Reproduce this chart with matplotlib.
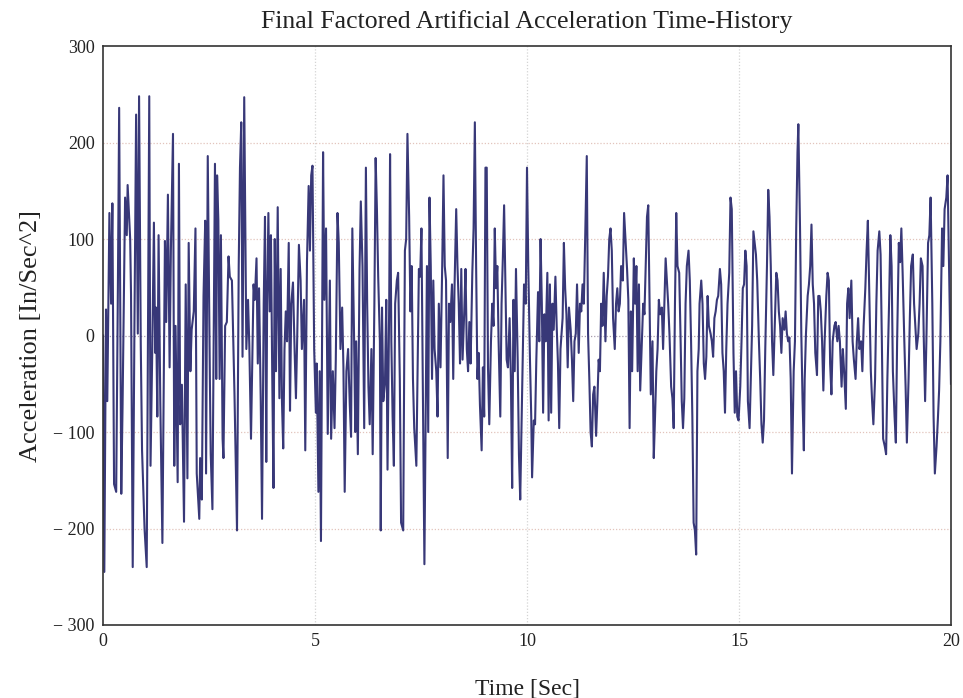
import numpy as np
import matplotlib
matplotlib.use("Agg")
import matplotlib.pyplot as plt

# values, peaks and troughs of the record
t_0_5 = [0, 0.03, 0.07, 0.10, 0.15, 0.19, 0.22, 0.26, 0.31, 0.35,
         0.38, 0.43, 0.46, 0.52, 0.56, 0.58, 0.64, 0.66, 0.70, 0.74,
         0.78, 0.82, 0.85, 0.89, 0.92, 0.98, 1.03, 1.09, 1.12, 1.16,
         1.20, 1.23, 1.25, 1.28, 1.31, 1.35, 1.40, 1.46, 1.49, 1.53,
         1.57, 1.60, 1.65, 1.68, 1.71, 1.76, 1.79, 1.82, 1.86, 1.91,
         1.95, 1.99, 2.02, 2.06, 2.09, 2.14, 2.18, 2.21, 2.27, 2.29,
         2.33, 2.37, 2.41, 2.43, 2.47,
         2.52, 2.54, 2.58, 2.61, 2.64, 2.67, 2.69, 2.72, 2.75, 2.78,
         2.82, 2.84, 2.88, 2.92, 2.96, 2.99, 3.04, 3.10, 3.16, 3.20,
         3.23, 3.26, 3.29, 3.33, 3.35, 3.38, 3.42, 3.45, 3.49, 3.55,
         3.58, 3.62, 3.65, 3.68, 3.72, 3.75, 3.79, 3.82, 3.85, 3.87,
         3.90, 3.93, 3.96, 3.99, 4.02, 4.05, 4.08, 4.12, 4.16, 4.19,
         4.22, 4.25, 4.28, 4.31, 4.34, 4.38, 4.41, 4.44, 4.48, 4.52,
         4.55, 4.58, 4.62, 4.66, 4.69, 4.74, 4.77, 4.81, 4.85, 4.88,
         4.91, 4.94]
acc_0_5 = [0, -245, 27, -68, 127, 33, 137, -154, -162, 49,
           236, -164, -74, 143, 104, 156, 100, 43, -240, 6,
           229, 2, 248, -10, -119, -201, -240, 248, -135, -18,
           117, -18, 29, -84, 104, -68, -215, 98, 14, 146,
           -33, 88, 209, -135, 10, -152, 178, -92, -51, -193,
           53, -148, 96, -37, 6, 25, 111, -143, -190, -127,
           -170, 41, 119, -143, 186,
           -45, -123, -180, -2, 178, -45, 166, 119, -45, 104,
           -107, -127, 10, 14, 82, 61, 57, -60, -202, 72,
           174, 221, -22, 247, 139, -14, 37, -10, -107, 53,
           37, 80, -29, 49, -68, -190, 33, 123, -131, 33,
           127, 25, 104, -37, -158, 100, -37, 133, -65, 69,
           -68, -117, -14, 25, -6, 96, -78, 33, 55, -18,
           -65, -2, 94, 57, -14, 37, -119, 76, 155, 88,
           166, 176]

t_5_10 = [4.98, 5.02, 5.04, 5.08, 5.11, 5.14, 5.19, 5.22, 5.26, 5.30,
          5.35, 5.38, 5.42, 5.46, 5.49, 5.53, 5.56, 5.60, 5.64, 5.67,
          5.70, 5.74, 5.78, 5.82, 5.85, 5.88, 5.92, 5.95, 5.97, 6.01,
          6.05, 6.08, 6.12, 6.16, 6.20, 6.23, 6.26, 6.29, 6.33, 6.36,
          6.40, 6.43, 6.46, 6.49, 6.53, 6.55, 6.58, 6.61, 6.65, 6.68,
          6.71, 6.75, 6.77, 6.80, 6.83, 6.86, 6.89, 6.93, 6.96, 7.00,
          7.03, 7.08, 7.12, 7.15, 7.18, 7.22, 7.25, 7.28, 7.31, 7.34,
          7.39,
          7.45, 7.48, 7.51, 7.54, 7.58, 7.61, 7.64, 7.67, 7.70, 7.73,
          7.76, 7.79, 7.82, 7.86, 7.89, 7.92, 7.96, 8.00, 8.03, 8.06,
          8.09, 8.13, 8.16, 8.19, 8.23, 8.26, 8.29, 8.33, 8.36, 8.39,
          8.42, 8.45, 8.48, 8.52, 8.55, 8.58, 8.61, 8.64, 8.67, 8.71,
          8.74, 8.77, 8.80, 8.83, 8.86, 8.89, 8.93, 8.96, 8.99, 9.02,
          9.05, 9.08, 9.11, 9.15, 9.18, 9.21, 9.24, 9.27, 9.30, 9.33,
          9.37, 9.40, 9.43, 9.46, 9.49, 9.52, 9.55, 9.59, 9.62, 9.65,
          9.68, 9.71, 9.74, 9.78, 9.81, 9.84]
acc_5_10 = [-14, -80, -29, -162, -37, -213, 190, 37, 111, -102,
            57, -107, -37, -96, -25, 127, 96, -14, 29, -33,
            -162, -37, -14, -72, -105, 111, 2, -100, -6, -123,
            69, 139, 72, -96, 174, 33, -53, -92, -14, -123,
            33, 184, 131, 61, -6, -202, 29, -68, -49, 37,
            -139, 33, 188, -6, -84, -135, 33, 57, 65, -45,
            -194, -202, 88, 100, 209, 123, 25, 72, -45, -96,
            -135,
            69, 61, 111, -33, -237, -84, 72, -100, 143, 72,
            -45, 57, -14, -37, -84, 33, -33, 72, 166, 72,
            57, -127, 33, 14, 53, -45, 49, 131, 72, 33,
            -29, 69, -25, 25, 69, -14, -37, 14, -29, 65,
            111, 221, 72, -45, -18, -72, -119, -33, -84, 174,
            174, -33, -92, -6, 33, 10, 111, 49, 72, -6,
            -84, 33, 80, 135, 57, -25, -33, 18, -45, -158,
            37, -37, 69, -25, -123, -170]

t_10_15 = [9.89, 9.93, 9.97, 10.00, 10.03, 10.07, 10.10, 10.12, 10.16, 10.19,
           10.22, 10.26, 10.29, 10.32, 10.35, 10.38, 10.41, 10.44, 10.48, 10.51,
           10.54, 10.57, 10.60, 10.63, 10.67, 10.70, 10.73, 10.76, 10.79, 10.84,
           10.87, 10.90, 10.93, 10.96, 10.99, 11.03, 11.06, 11.09, 11.12, 11.15,
           11.18, 11.22, 11.25, 11.28, 11.31, 11.34, 11.37, 11.41, 11.44, 11.47,
           11.50, 11.53, 11.56, 11.59, 11.63, 11.66, 11.69, 11.72, 11.75, 11.78,
           11.81, 11.85, 11.88, 11.91, 11.94, 11.97, 12.00, 12.03, 12.07, 12.10,
           12.13, 12.16, 12.19, 12.22, 12.26, 12.29,
           12.36, 12.39, 12.42, 12.45, 12.48, 12.52, 12.55, 12.58, 12.61, 12.64,
           12.67, 12.70, 12.74, 12.77, 12.80, 12.83, 12.86, 12.89, 12.92, 12.96,
           12.99, 13.02, 13.05, 13.08, 13.11, 13.14, 13.18, 13.21, 13.24, 13.27,
           13.30, 13.33, 13.36, 13.40, 13.43, 13.46, 13.49, 13.52, 13.55, 13.59,
           13.62, 13.65, 13.68, 13.71, 13.74, 13.77, 13.81, 13.84, 13.87, 13.90,
           13.93, 13.96, 13.99, 14.02, 14.05, 14.07, 14.11, 14.14, 14.17, 14.20,
           14.23, 14.26, 14.29, 14.33, 14.36, 14.39, 14.42, 14.45, 14.48, 14.51,
           14.55, 14.58, 14.61, 14.64, 14.67, 14.70, 14.73, 14.77, 14.80, 14.83]
acc_10_15 = [-45, 53, 33, 174, 72, -25, -84, -147, -88, -92,
             -25, 45, -6, 100, 33, -80, 22, -6, 65, -88,
             53, -80, 33, 6, 61, 10, -29, -96, -14, 18,
             96, 49, 22, -33, 29, 6, -25, -68, -6, 2,
             53, -18, 33, 25, 53, 33, 96, 186, 2, -45,
             -100, -115, -61, -53, -104, -68, -25, -37, 33, 10,
             65, -6, 41, 61, 100, 111, 88, 18, -14, 33,
             49, 25, 33, 72, 57, 127,
             69, 37, -96, 25, -37, 80, 33, 72, -37, 53,
             -57, -18, 33, 22, 72, 123, 135, 33, -61, -6,
             -127, -84, -37, -14, 37, 22, 29, -14, 33, 80,
             57, 33, 2, -53, -65, -96, 33, 127, 72, 65,
             2, -68, -96, -65, 33, 72, 88, 57, -6, -84,
             -194, -202, -227, -37, -14, 33, 57, 33, -29, -45,
             -22, 41, 10, 2, -6, -22, 18, 25, 37, 41,
             69, 53, -18, -37, -80, -14, 33, 65, 143, 131]

t_15_20 = [14.87, 14.90, 14.93, 14.96, 14.99, 15.03, 15.06, 15.09, 15.12, 15.15,
           15.18, 15.21, 15.25, 15.28, 15.31, 15.34, 15.37, 15.40, 15.43, 15.47,
           15.50, 15.53, 15.56, 15.59, 15.62, 15.66, 15.69, 15.72, 15.75, 15.78,
           15.81, 15.84, 15.88, 15.91, 15.94, 15.97, 16.00, 16.03, 16.07, 16.10,
           16.13, 16.16, 16.19, 16.22, 16.25, 16.29, 16.32, 16.35, 16.38, 16.40,
           16.44, 16.47, 16.50, 16.53, 16.55, 16.58, 16.62, 16.65, 16.68, 16.71,
           16.74, 16.77, 16.80, 16.84, 16.87, 16.90, 16.93, 16.96, 16.99, 17.02,
           17.06, 17.09, 17.12, 17.15, 17.18, 17.21, 17.25, 17.28,
           17.32, 17.35, 17.38, 17.42, 17.45, 17.48, 17.52, 17.55, 17.58, 17.61,
           17.65, 17.68, 17.71, 17.75, 17.78, 17.81, 17.84, 17.88, 17.91, 17.94,
           17.98, 18.01, 18.04, 18.08, 18.11, 18.14, 18.17, 18.21, 18.24, 18.27,
           18.31, 18.34, 18.37, 18.40, 18.44, 18.47, 18.50, 18.54, 18.57, 18.60,
           18.63, 18.67, 18.70, 18.73, 18.77, 18.80, 18.83, 18.86, 18.90, 18.93,
           18.96, 19.00, 19.03, 19.06, 19.10, 19.13, 19.16, 19.19, 19.23, 19.26,
           19.29, 19.33, 19.36, 19.39, 19.42, 19.46, 19.49, 19.52, 19.56, 19.59,
           19.62, 19.66, 19.69, 19.72, 19.75, 19.79, 19.82, 19.85, 19.89, 19.92,
           19.96, 20.0]
acc_15_20 = [-18, -80, -37, -84, -88, -53, -6, 49, 53, 88,
             72, -68, -96, -45, 10, 108, 96, 84, 57, -6,
             -45, -92, -111, -88, -14, 72, 151, 123, 72, -6,
             -41, 6, 65, 57, 25, 10, -18, 18, 6, 25,
             2, -6, -2, -45, -143, -37, -6, 111, 190, 219,
             111, 2, -68, -119, -45, 2, 41, 53, 72, 115,
             53, 33, -18, -41, 41, 41, 25, -6, -57, -6,
             41, 65, 57, -29, -61, -6, 10, 14,
             -6, 10, -6, -53, -14, -37, -76, 33, 49, 18,
             57, -6, -25, -45, -6, 18, -14, -6, -37, 10,
             49, 88, 119, 33, -37, -68, -92, -45, 33, 88,
             108, 84, -6, -107, -115, -123, -45, 33, 104, 72,
             -37, -84, -111, -6, 96, 76, 111, 65, -6, -53,
             -111, -45, 18, 72, 84, 33, 10, -14, 2, 33,
             80, 72, -6, -68, -6, 96, 104, 143, 33, -84,
             -143, -115, -88, -57, -6, 111, 72, 131, 143, 166,
             60, -50]

x_ticks = [0, 5, 10, 15, 20]
y_ticks = [-300, -200, -100, 0, 100, 200, 300]
y_tick_labels = ['\u2212 300', '\u2212 200', '\u2212 100', '0', '100', '200', '300']

plt.rcParams['font.family'] = ['Liberation Serif', 'DejaVu Serif']

t = np.concatenate([t_0_5, t_5_10, t_10_15, t_15_20])
acc = np.concatenate([acc_0_5, acc_5_10, acc_10_15, acc_15_20])

fig = plt.figure(figsize=(9.63, 6.98), dpi=100)
ax = fig.add_axes([0.107, 0.1046, 0.8805, 0.8294])

ax.plot(t, acc, color='#383878', lw=1.5)

ax.set_xlim(0, 20)
ax.set_ylim(-300, 300)
ax.set_xticks(x_ticks)
ax.set_yticks(y_ticks)
ax.set_yticklabels(y_tick_labels)
ax.tick_params(length=0, labelsize=13, pad=6, colors='#222222')

# grid: faint dotted lines, the zero line a bit darker
for y in y_ticks[1:-1]:
    c = '#a89cae' if y == 0 else '#e2c4bc'
    ax.axhline(y, color=c, lw=0.9, ls=(0, (1, 1.5)), zorder=0)
for x in x_ticks[1:-1]:
    ax.axvline(x, color='#d4d4d4', lw=0.9, ls=(0, (1, 1.5)), zorder=0)

for s in ax.spines.values():
    s.set_color('#333333')
    s.set_linewidth(1.2)

ax.set_title('Final Factored Artificial Acceleration Time-History',
             fontsize=18.5, color='#222222', pad=13)
ax.set_xlabel('Time [Sec]', fontsize=17, color='#222222', labelpad=20)
ax.set_ylabel('Acceleration [In/Sec^2]', fontsize=19, color='#222222', labelpad=8)

fig.savefig('out.png', dpi=100)
